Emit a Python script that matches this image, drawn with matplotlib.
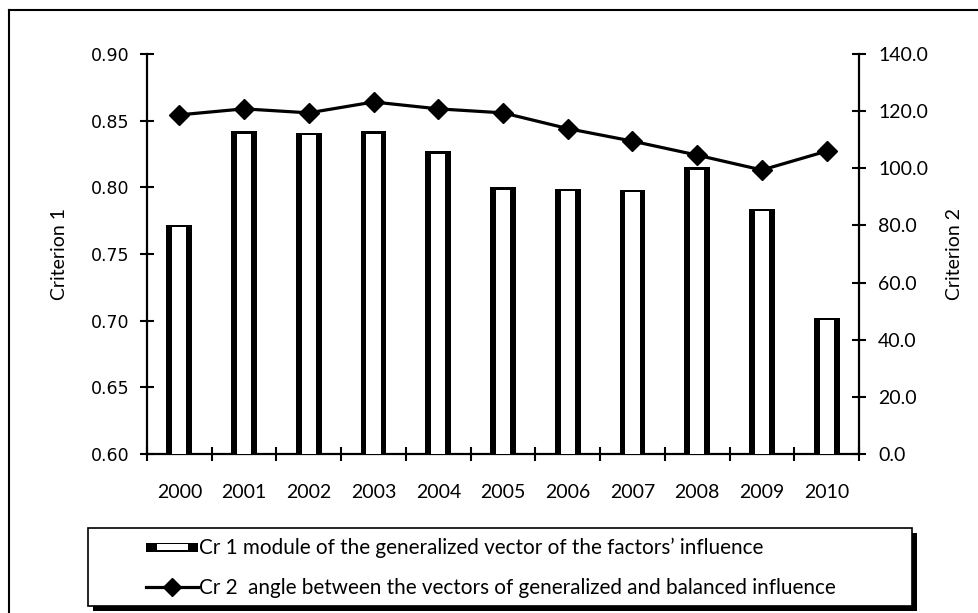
import matplotlib
matplotlib.use("Agg")
import matplotlib.pyplot as plt
from matplotlib.patches import Rectangle
from matplotlib.lines import Line2D
from matplotlib.legend_handler import HandlerBase
import numpy as np

years = ["2000", "2001", "2002", "2003", "2004", "2005", "2006", "2007", "2008", "2009", "2010"]
criterion1 = [0.772, 0.842, 0.841, 0.842, 0.827, 0.800, 0.799, 0.798, 0.815, 0.784, 0.702]
criterion2 = [118.7, 120.8, 119.4, 123.2, 120.8, 119.4, 113.9, 109.5, 104.6, 99.4, 106.0]
left_ticks = [0.60, 0.65, 0.70, 0.75, 0.80, 0.85, 0.90]
right_ticks = [0.0, 20.0, 40.0, 60.0, 80.0, 100.0, 120.0, 140.0]
label1 = "Cr 1 module of the generalized vector of the factors\u2019 influence"
label2 = "Cr 2  angle between the vectors of generalized and balanced influence"

FONT = "Lato"
plt.rcParams['font.family'] = [FONT, 'DejaVu Sans']

W, H = 979, 613
fig = plt.figure(figsize=(W / 100, H / 100), dpi=100)
fig.patch.set_facecolor("white")

L, R, T, B = 147, 859, 54, 454
ax = fig.add_axes([L / W, 1 - B / H, (R - L) / W, (B - T) / H])
ax2 = ax.twinx()

x = np.arange(len(years))
base = 0.60
c1 = np.array(criterion1)
ax.bar(x, c1 - base, bottom=base, width=0.40, color="black", linewidth=0, zorder=2)
ax.bar(x, c1 - base - 0.0018, bottom=base, width=0.22, color="white", linewidth=0, zorder=3)

ax2.plot(x, criterion2, color="black", linewidth=2.3, marker="D", markersize=10.5,
         zorder=4)

ax.set_xlim(-0.5, len(years) - 0.5)
ax.set_ylim(0.60, 0.90)
ax2.set_ylim(0, 140)
ax.set_yticks(left_ticks)
ax.set_yticklabels([f"{v:.2f}" for v in left_ticks], fontfamily="DejaVu Sans", fontsize=12.5)
ax2.set_yticks(right_ticks)
ax2.set_yticklabels([f"{v:.1f}" for v in right_ticks], fontsize=14)

ax.set_xticks(np.arange(len(years) + 1) - 0.5)
ax.set_xticklabels([])
ax.set_xticks(x, minor=True)
ax.set_xticklabels(years, minor=True, fontsize=14)
ax.tick_params(axis="x", which="minor", length=0, pad=21.5)
ax.tick_params(axis="x", which="major", direction="inout", length=10, width=1.5)
ax.tick_params(axis="y", direction="inout", length=9.5, width=1.5, pad=8)
ax2.tick_params(axis="y", direction="inout", length=9.5, width=1.5, pad=9)

for a in (ax, ax2):
    a.spines["top"].set_visible(False)
    for s in ("left", "right", "bottom"):
        a.spines[s].set_linewidth(1.6)
ax2.spines["left"].set_visible(False)
ax2.spines["bottom"].set_visible(False)
ax.spines["right"].set_visible(False)

ax.set_ylabel("Criterion 1", fontsize=14, labelpad=16)
ax2.set_ylabel("Criterion 2", fontsize=14, labelpad=13)


class BarHandler(HandlerBase):
    def create_artists(self, legend, orig_handle, xdescent, ydescent, width, height, fontsize, trans):
        hh = 9 / 100 * 72
        y0 = -ydescent + (height - hh) / 2
        outer = Rectangle((-xdescent, y0), width, hh, facecolor="black", edgecolor="none", transform=trans)
        inner = Rectangle((-xdescent + width * 0.22, y0 + 1.0), width * 0.60, hh - 2.0,
                          facecolor="white", edgecolor="none", transform=trans)
        return [outer, inner]


bar_handle = Rectangle((0, 0), 1, 1)
line_handle = Line2D([], [], color="black", linewidth=2.3, marker="D", markersize=9)

# legend frame + shadow (figure pixel coords)
lx0, ly0, lx1, ly1 = 88, 528, 912, 606
sh = 5
fig.add_artist(Rectangle(((lx0 + sh) / W, 1 - (ly1 + sh) / H),
                         (lx1 - lx0) / W, (ly1 - ly0) / H, transform=fig.transFigure,
                         facecolor="black", edgecolor="none", zorder=1))
fig.add_artist(Rectangle((lx0 / W, 1 - ly1 / H), (lx1 - lx0) / W, (ly1 - ly0) / H,
                         transform=fig.transFigure, facecolor="white", edgecolor="black",
                         linewidth=1.2, zorder=2))

leg = fig.legend([bar_handle, line_handle], [label1, label2],
                 handler_map={Rectangle: BarHandler()},
                 loc="center left", bbox_to_anchor=(146 / W, 1 - 568 / H),
                 frameon=False, fontsize=14.9, handlelength=2.5, handletextpad=0.05,
                 labelspacing=0.95, borderaxespad=0, borderpad=0)
leg.set_zorder(3)

# outer figure border (left and top)
fig.add_artist(Line2D([9 / W, 9 / W], [0, 1 - 10 / H], transform=fig.transFigure, color="black", linewidth=1.5))
fig.add_artist(Line2D([9 / W, 1], [1 - 10 / H, 1 - 10 / H], transform=fig.transFigure, color="black", linewidth=1.5))

fig.savefig("out.png", dpi=100)
